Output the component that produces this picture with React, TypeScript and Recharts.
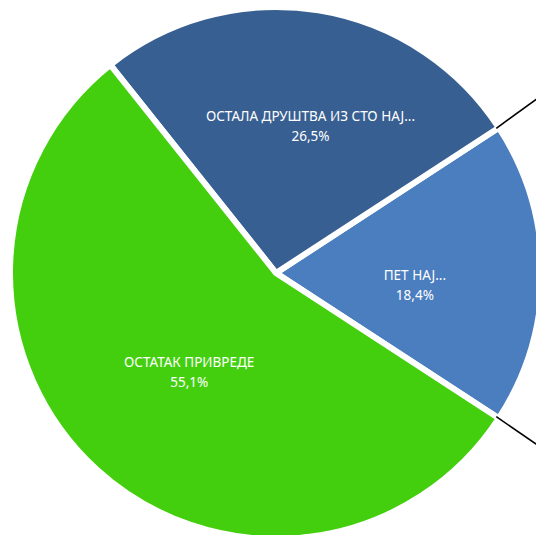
import { Cell, Pie, PieChart } from "recharts"

// categories, values (percent) and slice colours
const categories = ["ПЕТ НАЈ...", "ОСТАЛА ДРУШТВА ИЗ СТО НАЈ...", "ОСТАТАК ПРИВРЕДЕ"]
const shares = [18.4, 26.5, 55.1]
const colors = ["#4a7ebe", "#385f92", "#43cf0e"]

const data = categories.map((name, i) => ({ name, value: shares[i] }))

// label placement inside each slice (fraction of radius, angle nudge in degrees)
const labelPlacement = [
    { r: 0.53, da: -5 },
    { r: 0.575, da: -4 },
    { r: 0.5, da: 1 },
]

const RAD = Math.PI / 180
const STROKE = 6

function renderLabel(props: any) {
    const { cx, cy, midAngle, outerRadius, percent, index, name } = props
    const place = labelPlacement[index]
    const a = (midAngle + place.da) * RAD
    const r = (outerRadius - STROKE / 2) * place.r
    const x = cx + r * Math.cos(a)
    const y = cy - r * Math.sin(a)
    const pct = (percent * 100).toFixed(1).replace(".", ",") + "%"

    // connector lines of the pie-of-pie, drawn from the outer corners of the first slice
    let connectors = null
    if (index === 0) {
        const ro = outerRadius - STROKE / 2
        const a1 = (midAngle + percent * 180) * RAD
        const a2 = (midAngle - percent * 180) * RAD
        const x1 = cx + ro * Math.cos(a1)
        const y1 = cy - ro * Math.sin(a1)
        const x2 = cx + ro * Math.cos(a2)
        const y2 = cy - ro * Math.sin(a2)
        const len = 80
        connectors = (
            <g stroke="#000" strokeWidth={1.6}>
                <line x1={x1} y1={y1 - 1} x2={x1 + len * Math.cos(36 * RAD)} y2={y1 - 1 - len * Math.sin(36 * RAD)} />
                <line x1={x2} y1={y2} x2={x2 + len * Math.cos(34.4 * RAD)} y2={y2 + len * Math.sin(34.4 * RAD)} />
            </g>
        )
    }

    return (
        <g>
            {connectors}
            <text x={x} y={y} fill="#fff" textAnchor="middle" fontSize={13.5} fontFamily="'Noto Sans', sans-serif">
                <tspan x={x} dy={-5}>{name}</tspan>
                <tspan x={x} dy={20}>{pct}</tspan>
            </text>
        </g>
    )
}

export default function App() {
    return (
        <div style={{ position: "absolute", left: 0, top: 0, width: 536, height: 535, background: "#fff" }}>
            <PieChart width={536} height={535} margin={{ top: 0, right: 0, bottom: 0, left: 0 }}>
                <Pie
                    data={data}
                    dataKey="value"
                    nameKey="name"
                    cx={276}
                    cy={273}
                    outerRadius={266}
                    startAngle={-shares[0] * 1.8}
                    endAngle={360 - shares[0] * 1.8}
                    stroke="#fff"
                    strokeWidth={STROKE}
                    label={renderLabel}
                    labelLine={false}
                    isAnimationActive={false}
                >
                    {data.map((entry, index) => (
                        <Cell key={`cell-${index}`} fill={colors[index]} />
                    ))}
                </Pie>
            </PieChart>
        </div>
    )
}
